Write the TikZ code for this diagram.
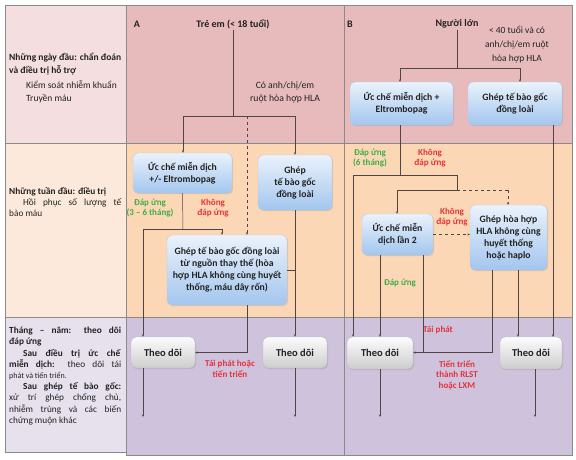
\documentclass[tikz,border=0pt]{standalone}
\usepackage{fontspec}
\setmainfont{Carlito}
\usetikzlibrary{arrows.meta,shadows,calc}
\definecolor{topL}{HTML}{F4DEDF}
\definecolor{topA}{HTML}{E7BBBC}
\definecolor{midL}{HTML}{FDE9DB}
\definecolor{midA}{HTML}{FCD7B5}
\definecolor{botL}{HTML}{E6E1EC}
\definecolor{botA}{HTML}{CEC2DC}
\definecolor{bordC}{HTML}{8A8A8A}
\definecolor{lineC}{HTML}{4F4545}
\definecolor{blueT}{HTML}{EAF2FC}
\definecolor{blueB}{HTML}{A3C6EE}
\definecolor{blueD}{HTML}{B3CDEB}
\definecolor{grayT}{HTML}{FCFCFC}
\definecolor{grayB}{HTML}{CDCDCD}
\definecolor{grayD}{HTML}{BDBDBD}
\definecolor{grnC}{HTML}{3DAE49}
\definecolor{redC}{HTML}{E5333A}
\definecolor{txtC}{HTML}{222222}
\tikzset{
  panel/.style={draw=bordC, line width=0.6pt},
  bluebox/.style={draw=blueD, line width=0.4pt, rounded corners=5pt, top color=blueT, bottom color=blueB,
    align=center, inner sep=2pt, text=txtC, font=\fontsize{9.7}{12}\selectfont\bfseries,
    drop shadow={opacity=0.25, shadow xshift=1pt, shadow yshift=-1.2pt}},
  graybox/.style={draw=grayD, line width=0.4pt, rounded corners=5pt, top color=grayT, bottom color=grayB,
    align=center, inner sep=2pt, text=txtC, font=\fontsize{10.5}{12}\selectfont\bfseries,
    minimum width=64pt, minimum height=31pt,
    drop shadow={opacity=0.25, shadow xshift=1pt, shadow yshift=-1.2pt}},
  conn/.style={draw=lineC, line width=0.5pt},
  arr/.style={conn, -{Stealth[length=2.5pt,width=2.2pt]}},
  glbl/.style={align=center, text=grnC, font=\fontsize{9}{10.5}\selectfont\bfseries, inner sep=1pt},
  rlbl/.style={align=center, text=redC, font=\fontsize{9}{10.5}\selectfont\bfseries, inner sep=1pt},
  ttl/.style={text=txtC, font=\fontsize{10}{12}\selectfont\bfseries, inner sep=1pt},
  note/.style={align=center, text=txtC, font=\fontsize{9.7}{13}\selectfont, inner sep=1pt},
  lefttxt/.style={anchor=north west, text width=112pt, align=justify, text=txtC, inner sep=0pt,
    font=\fontsize{9.3}{11.2}\selectfont},
}
\begin{document}
\begin{tikzpicture}[x=1pt,y=-1pt]
\useasboundingbox (0,0) rectangle (576,459);
\fill[white] (0,0) rectangle (576,459);
% panels
\filldraw[panel, fill=topL] (5,5) rectangle (126,143);
\filldraw[panel, fill=topA] (126,5) rectangle (344,143);
\filldraw[panel, fill=topA] (344,5) rectangle (572,143);
\filldraw[panel, fill=midL] (5,143) rectangle (126,317);
\filldraw[panel, fill=midA] (126,143) rectangle (344,317);
\filldraw[panel, fill=midA] (344,143) rectangle (572,317);
\filldraw[panel, fill=botL] (5,317) rectangle (126,452);
\filldraw[panel, fill=botA] (126,317) rectangle (344,455);
\filldraw[panel, fill=botA] (344,317) rectangle (572,455);

% left column texts
\node[lefttxt, font=\fontsize{9.5}{13}\selectfont] (lt1) at (9,53) {\textbf{Những ngày đầu: chẩn đoán}\linebreak\textbf{và điều trị hỗ trợ}\par\vspace{1.5pt}
  \hspace*{17pt}Kiểm soát nhiễm khuẩn\par\hspace*{17pt}Truyền máu};
\node[lefttxt] (lt2) at (9,187) {\textbf{Những tuần đầu: điều trị}\par
  \hspace*{14pt}Hồi phục số lượng tế\linebreak bào máu};
\node[lefttxt] (lt3) at (9,327) {\textbf{Tháng – năm: theo dõi}\linebreak\textbf{đáp ứng}\par
  \hspace*{14pt}\textbf{Sau điều trị ức chế}\linebreak\textbf{miễn dịch:} theo dõi tái\linebreak{\fontsize{8}{11.2}\selectfont phát và tiến triển.}\par
  \hspace*{14pt}\textbf{Sau ghép tế bào gốc:}\linebreak xử trí ghép chống chủ,\linebreak nhiễm trùng và các biến\linebreak chứng muộn khác\par};

% ===== Panel A =====
\node[ttl] (labA) at (137,24) {A};
\node[ttl] (treem) at (233,24) {Trẻ em (< 18 tuổi)};
\node[note] (coA) at (285,92) {Có anh/chị/em\\ruột hòa hợp HLA};
\node[bluebox, minimum width=99pt, minimum height=40pt] (ucA) at (182.5,173) {Ức chế miễn dịch\\+/- Eltrombopag};
\node[bluebox, minimum width=74pt, minimum height=55pt] (ghepA) at (295,182.5) {Ghép\\tế bào gốc\\đồng loài};
\node[bluebox, minimum width=120pt, minimum height=70pt] (ghepTT) at (227,270) {Ghép tế bào gốc đồng loài\\từ nguồn thay thế (hòa\\hợp HLA không cùng huyết\\thống, máu dây rốn)};
\node[graybox] (theoA1) at (163,352.5) {Theo dõi};
\node[graybox] (theoA2) at (295,352.5) {Theo dõi};
\node[glbl] (dapA) at (150,208) {Đáp ứng\\(3 – 6 tháng)};
\node[rlbl] (khongA) at (213,208) {Không\\đáp ứng};
\node[rlbl] (taiA) at (230,369) {Tái phát hoặc\\tiến triển};

\coordinate (jA) at (233,116);
\coordinate (jAl) at (183,116);
\coordinate (jAr) at (295,116);
\coordinate (jAd) at (247,116);
\draw[conn] (treem.south) -- (jA);
\draw[conn] (jAl) -- (jAr);
\draw[arr] (jAl) -- (jAl |- ucA.north);
\draw[arr] (jAr) -- (jAr |- ghepA.north);
\draw[arr, dashed] (jAd) -- (jAd |- ghepTT.north);
\coordinate (kA) at (183,229);
\coordinate (kAl) at (143,229);
\coordinate (kAr) at (222,229);
\draw[conn] (ucA.south) -- (kA);
\draw[conn] (kAl) -- (kAr);
\draw[arr] (kAl) -- (kAl |- theoA1.north);
\draw[arr] (kAr) -- (kAr |- ghepTT.north);
\draw[arr] (ghepA.south) -- (theoA2.north);
\draw[conn] (ghepTT.east) -- (ghepTT.east -| ghepA.south);
\coordinate (mA) at (247,352.5);
\draw[conn] (ghepTT.south -| mA) -- (mA);
\draw[arr] (mA) -- (theoA1.east);
\coordinate (eA1) at (143,417);
\coordinate (eA2) at (295,417);
\draw[arr] (theoA1.south -| eA1) -- (eA1);
\draw[arr] (theoA2.south) -- (eA2);

% ===== Panel B =====
\node[ttl] (labB) at (350,24) {B};
\node[ttl] (nguoi) at (457,24) {Người lớn};
\node[note, font=\fontsize{9.5}{14}\selectfont] (coB) at (517,45) {< 40 tuổi và có\\anh/chị/em ruột\\hòa hợp HLA};
\node[bluebox, minimum width=103pt, minimum height=43pt] (ucB) at (401.5,103.5) {Ức chế miễn dịch +\\Eltrombopag};
\node[bluebox, minimum width=94pt, minimum height=43pt] (ghepB) at (515,103.5) {Ghép tế bào gốc\\đồng loài};
\node[bluebox, minimum width=71pt, minimum height=41pt] (uc2) at (397.5,234.5) {Ức chế miễn\\dịch lần 2};
\node[bluebox, minimum width=77pt, minimum height=65pt] (gh2) at (508.5,237.5) {Ghép hòa hợp\\HLA không cùng\\huyết thống\\hoặc haplo};
\node[graybox, minimum width=66pt, minimum height=32pt] (theoB1) at (380,353) {Theo dõi};
\node[graybox, minimum width=62pt, minimum height=32pt] (theoB2) at (531,353) {Theo dõi};
\node[glbl] (dapB) at (370,158) {Đáp ứng\\(6 tháng)};
\node[rlbl] (khongB) at (430,158) {Không\\đáp ứng};
\node[rlbl] (khongB2) at (452,217) {Không\\đáp ứng};
\node[glbl] (dapB2) at (400,283) {Đáp ứng};
\node[rlbl] (taiB) at (438,330) {Tái phát};
\node[rlbl] (tienB) at (457,375) {Tiến triển\\thành RLST\\hoặc LXM};

\coordinate (jB) at (457,68);
\coordinate (jBl) at (400,68);
\coordinate (jBr) at (520,68);
\draw[conn] (nguoi.south) -- (jB);
\draw[conn] (jBl) -- (jBr);
\draw[arr] (jBl) -- (jBl |- ucB.north);
\draw[arr] (jBr) -- (jBr |- ghepB.north);
\coordinate (kB) at (400,175);
\coordinate (kBl) at (353,175);
\coordinate (kBr) at (457,175);
\draw[conn] (ucB.south -| kB) -- (kB);
\draw[conn] (kBl) -- (kBr);
\draw[arr] (kBl) -- (kBl |- theoB1.north);
\coordinate (nB) at (457,190);
\coordinate (nBl) at (397,190);
\coordinate (nBr) at (508,190);
\draw[conn] (kBr) -- (nB);
\draw[conn] (nBl) -- (nB);
\draw[conn, dashed] (nB) -- (nBr);
\draw[arr] (nBl) -- (nBl |- uc2.north);
\draw[arr, dashed] (nBr) -- (nBr |- gh2.north);
\draw[arr, dashed] (uc2.east) -- (uc2.east -| gh2.west);
\coordinate (u2a) at (380,0);
\coordinate (u2b) at (423,0);
\draw[arr] (uc2.south -| u2a) -- (theoB1.north -| u2a);
\coordinate (mB) at (423,352.5);
\coordinate (mB2) at (492,352.5);
\draw[conn] (uc2.south -| u2b) -- (mB);
\draw[conn] (gh2.south -| mB2) -- (mB2);
\draw[arr] (mB2) -- (mB2 -| theoB1.east);
\coordinate (g2b) at (518,0);
\draw[arr] (gh2.south -| g2b) -- (theoB2.north -| g2b);
\coordinate (gBb) at (553,0);
\draw[arr] (ghepB.south -| gBb) -- (theoB2.north -| gBb);
\coordinate (eB1) at (380,417);
\coordinate (eB2) at (535,417);
\draw[arr] (theoB1.south -| eB1) -- (eB1);
\draw[arr] (theoB2.south -| eB2) -- (eB2);
\end{tikzpicture}
\end{document}
